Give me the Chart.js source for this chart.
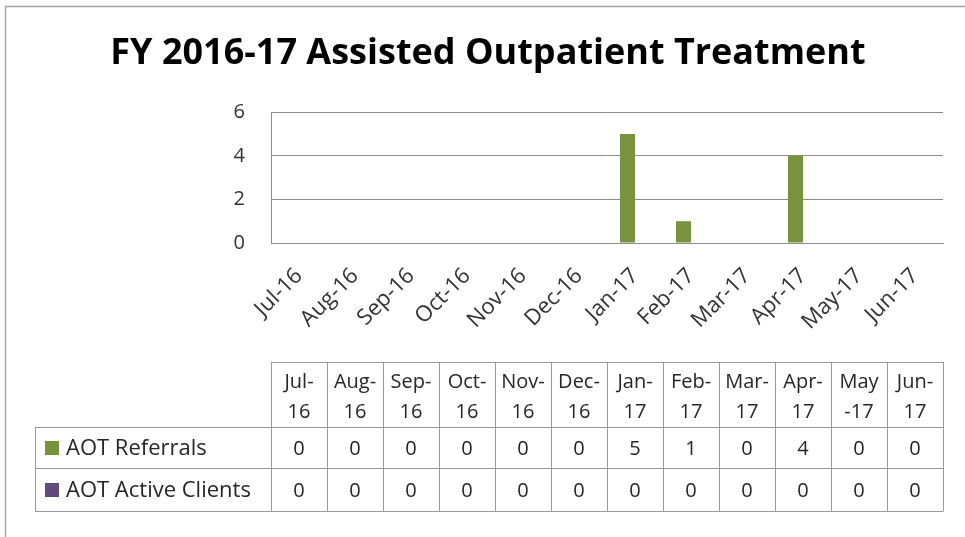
<!DOCTYPE html>
<html>
<head>
<meta charset="utf-8">
<script src="https://cdn.jsdelivr.net/npm/chart.js@4/dist/chart.umd.min.js"></script>
<style>
  html, body { margin: 0; padding: 0; background: #ffffff; }
  #wrap { width: 965px; height: 537px; position: relative; }
  canvas { display: block; }
</style>
</head>
<body>
<div id="wrap"><canvas id="c" width="965" height="537"></canvas></div>
<script>
// ---- data ----
const chartTitle = 'FY 2016-17 Assisted Outpatient Treatment';
const categories = ['Jul-16','Aug-16','Sep-16','Oct-16','Nov-16','Dec-16','Jan-17','Feb-17','Mar-17','Apr-17','May-17','Jun-17'];
const headerLines = [['Jul-','16'],['Aug-','16'],['Sep-','16'],['Oct-','16'],['Nov-','16'],['Dec-','16'],['Jan-','17'],['Feb-','17'],['Mar-','17'],['Apr-','17'],['May','-17'],['Jun-','17']];
const seriesNames = ['AOT Referrals', 'AOT Active Clients'];
const referrals = [0,0,0,0,0,0,5,1,0,4,0,0];
const activeClients = [0,0,0,0,0,0,0,0,0,0,0,0];
const yTicks = [0,2,4,6];

// ---- style ----
const GREEN = '#77933C';
const PURPLE = '#604A7B';
const GRID = '#8c8c8c';
const TABLE_LINE = '#9a9a9a';
const TEXT = '#333333';
const FONT = "'Open Sans', 'DejaVu Sans', sans-serif";

const tableLayout = { legendLeft: 35, top: 362, headerBottom: 427, row1Bottom: 468, row2Bottom: 511,
  headBase1: 388, headBase2: 418, rowBase: [455, 497], swatch: 14, swatchX: 45, textX: 66 };

const dataTablePlugin = {
  id: 'dataTable',
  afterDraw(chart) {
    const ctx = chart.ctx;
    const x = chart.scales.x;
    const n = categories.length;
    const step = x.getPixelForValue(1) - x.getPixelForValue(0);
    const L = tableLayout;
    const colLeft = i => x.getPixelForValue(i) - step / 2;
    const tableLeft = colLeft(0), tableRight = colLeft(n);
    ctx.save();
    ctx.strokeStyle = TABLE_LINE;
    ctx.lineWidth = 1;
    const hl = (x1, x2, y) => { ctx.beginPath(); ctx.moveTo(x1, Math.round(y) + 0.5); ctx.lineTo(x2, Math.round(y) + 0.5); ctx.stroke(); };
    const vl = (xx, y1, y2) => { ctx.beginPath(); ctx.moveTo(Math.round(xx) + 0.5, y1); ctx.lineTo(Math.round(xx) + 0.5, y2); ctx.stroke(); };
    hl(tableLeft, tableRight, L.top);
    hl(L.legendLeft, tableRight, L.headerBottom);
    hl(L.legendLeft, tableRight, L.row1Bottom);
    hl(L.legendLeft, tableRight, L.row2Bottom);
    vl(L.legendLeft, L.headerBottom, L.row2Bottom + 0.5);
    for (let i = 0; i <= n; i++) vl(colLeft(i), L.top, L.row2Bottom + 0.5);

    ctx.fillStyle = '#262626';
    ctx.font = '20px ' + FONT;
    ctx.textAlign = 'center';
    ctx.textBaseline = 'alphabetic';
    for (let i = 0; i < n; i++) {
      const cx = x.getPixelForValue(i);
      ctx.fillText(headerLines[i][0], cx, L.headBase1);
      ctx.fillText(headerLines[i][1], cx, L.headBase2);
    }
    const rows = chart.data.datasets;
    rows.forEach((ds, r) => {
      ctx.font = '20px ' + FONT;
      ds.data.forEach((v, i) => {
        ctx.fillStyle = '#262626';
        ctx.textAlign = 'center';
        ctx.fillText(String(v), x.getPixelForValue(i), L.rowBase[r]);
      });
      ctx.fillStyle = ds.backgroundColor;
      ctx.fillRect(L.swatchX, L.rowBase[r] - L.swatch, L.swatch, L.swatch);
      ctx.fillStyle = '#262626';
      ctx.textAlign = 'left';
      ctx.font = '22px ' + FONT;
      ctx.fillText(ds.label, L.textX, L.rowBase[r]);
    });
    // outer frame (top and left)
    ctx.strokeStyle = '#a6a6a6';
    ctx.lineWidth = 1.5;
    ctx.beginPath();
    ctx.moveTo(5.5, chart.height + 2);
    ctx.lineTo(5.5, 6.5);
    ctx.lineTo(chart.width + 2, 6.5);
    ctx.stroke();
    ctx.restore();
  }
};

new Chart(document.getElementById('c'), {
  type: 'bar',
  data: {
    labels: categories,
    datasets: [
      { label: seriesNames[0], data: referrals, backgroundColor: GREEN, borderWidth: 0 },
      { label: seriesNames[1], data: activeClients, backgroundColor: PURPLE, borderWidth: 0 }
    ]
  },
  options: {
    responsive: false,
    animation: false,
    devicePixelRatio: 1,
    layout: { padding: { left: 33, right: 22, top: 0, bottom: 0 } },
    datasets: { bar: { categoryPercentage: 0.536, barPercentage: 1.0 } },
    plugins: {
      legend: { display: false },
      tooltip: { enabled: false },
      title: {
        display: true,
        text: chartTitle,
        color: '#000000',
        font: { family: FONT, size: 36, weight: 'bold', lineHeight: 1.2 },
        padding: { top: 32, bottom: 37 }
      }
    },
    scales: {
      x: {
        grid: { display: false, drawTicks: false },
        border: { display: true, color: GRID, width: 1 },
        ticks: { color: TEXT, font: { family: FONT, size: 22 }, minRotation: 45, maxRotation: 45, padding: 20, autoSkip: false },
        afterFit(scale) { scale.height = 294; }
      },
      y: {
        min: 0, max: 6,
        afterBuildTicks(scale) { scale.ticks = yTicks.map(v => ({ value: v })); },
        grid: { color: GRID, drawTicks: false, lineWidth: 1 },
        border: { display: true, color: GRID, width: 1 },
        ticks: { color: TEXT, font: { family: FONT, size: 20 }, padding: 26 },
        afterFit(scale) { scale.width = 238; }
      }
    }
  },
  plugins: [dataTablePlugin]
});
</script>
</body>
</html>
